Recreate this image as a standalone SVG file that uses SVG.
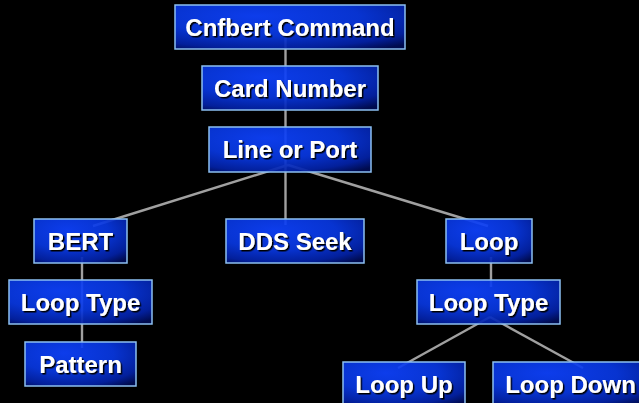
<svg xmlns="http://www.w3.org/2000/svg" width="639" height="403" viewBox="0 0 639 403">
<defs>
<radialGradient id="bx" cx="0.4" cy="0.3" r="0.85" fx="0.35" fy="0.25">
<stop offset="0" stop-color="#0e42ff"/>
<stop offset="0.5" stop-color="#0838e2"/>
<stop offset="0.82" stop-color="#0322a8"/>
<stop offset="1" stop-color="#000c55"/>
</radialGradient>
<filter id="ts" x="-10%" y="-30%" width="120%" height="160%">
<feDropShadow dx="1.5" dy="1.5" stdDeviation="0.4" flood-color="#000000" flood-opacity="1"/>
</filter>
</defs>
<style>
.box{fill:url(#bx);fill-opacity:0.92;stroke:#8cc0f2;stroke-width:1.5}
.lbl{font-family:"Liberation Sans",Arial,sans-serif;font-weight:bold;font-size:24px;fill:#ffffff;text-anchor:middle;filter:url(#ts)}
.con{stroke:#a0a0a0;stroke-width:2.4;fill:none}
</style>
<rect width="639" height="403" fill="#000000"/>
<g id="connectors">
<line class="con" x1="285.5" y1="33" x2="285.5" y2="166"/>
<line class="con" x1="288" y1="165" x2="93" y2="226"/>
<line class="con" x1="288" y1="165" x2="488" y2="226"/>
<line class="con" x1="285.5" y1="166" x2="285.5" y2="225"/>
<line class="con" x1="82" y1="257" x2="82" y2="348"/>
<line class="con" x1="491" y1="257" x2="491" y2="287"/>
<line class="con" x1="490" y1="317" x2="398" y2="368"/>
<line class="con" x1="490" y1="317" x2="583" y2="368"/>
</g>
<g id="n-cnfbert"><rect class="box" x="175" y="5" width="230" height="44"/><text class="lbl" x="290" y="35.6">Cnfbert Command</text></g>
<g id="n-card"><rect class="box" x="202" y="66" width="176" height="44"/><text class="lbl" x="290" y="96.6">Card Number</text></g>
<g id="n-line"><rect class="box" x="209" y="127" width="162" height="45"/><text class="lbl" x="290" y="158.1">Line or Port</text></g>
<g id="n-bert"><rect class="box" x="34" y="219" width="93" height="44"/><text class="lbl" x="80.5" y="249.6">BERT</text></g>
<g id="n-dds"><rect class="box" x="226" y="219" width="138" height="44"/><text class="lbl" x="295" y="249.6">DDS Seek</text></g>
<g id="n-loop"><rect class="box" x="446" y="219" width="86" height="44"/><text class="lbl" x="489" y="249.6">Loop</text></g>
<g id="n-looptype-l"><rect class="box" x="9" y="280" width="143" height="44"/><text class="lbl" x="80.5" y="310.6">Loop Type</text></g>
<g id="n-looptype-r"><rect class="box" x="417" y="280" width="143" height="44"/><text class="lbl" x="488.5" y="310.6">Loop Type</text></g>
<g id="n-pattern"><rect class="box" x="25" y="342" width="111" height="44"/><text class="lbl" x="80.5" y="372.6">Pattern</text></g>
<g id="n-loopup"><rect class="box" x="343" y="362" width="122" height="44"/><text class="lbl" x="404" y="392.6">Loop Up</text></g>
<g id="n-loopdown"><rect class="box" x="493" y="362" width="155" height="44"/><text class="lbl" x="570.5" y="392.6">Loop Down</text></g>
</svg>
